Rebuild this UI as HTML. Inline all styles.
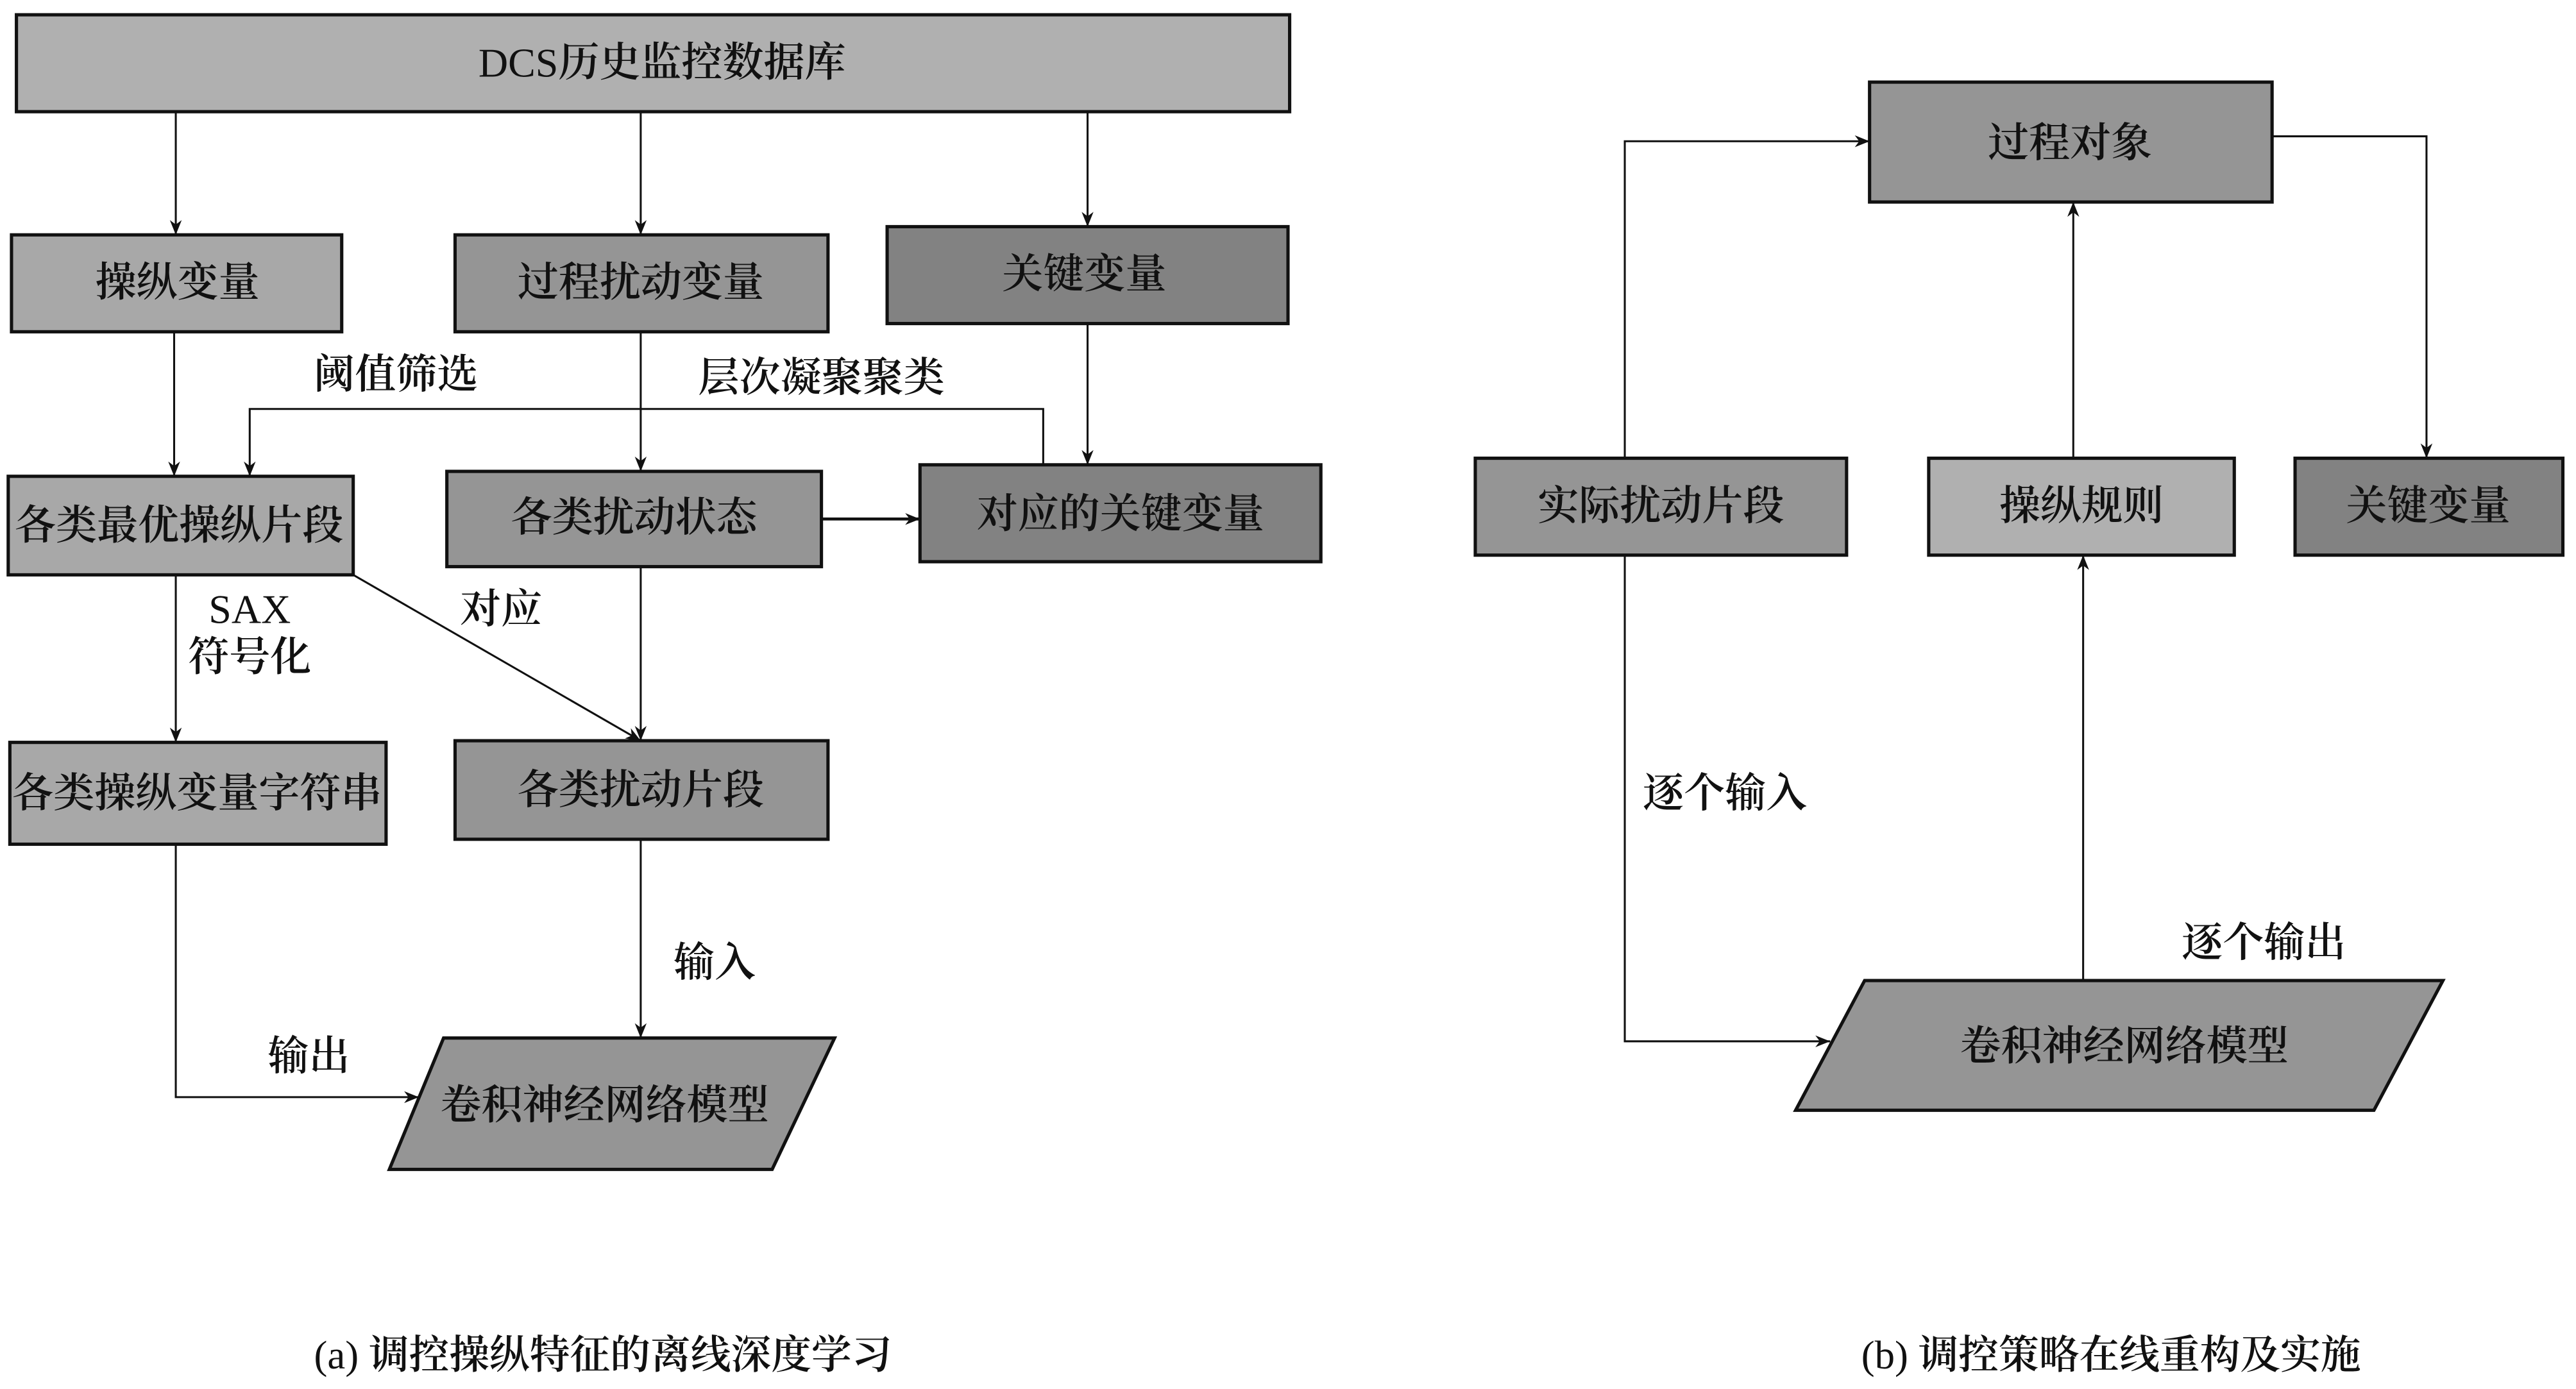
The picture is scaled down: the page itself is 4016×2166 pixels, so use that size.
<!DOCTYPE html>
<html><head><meta charset="utf-8"><style>
html,body{margin:0;padding:0;background:#fff;}
svg{display:block;}
text{font-family:"Liberation Serif","Noto Serif CJK SC","Noto Sans CJK SC",serif;fill:#111;text-anchor:middle;dominant-baseline:central;font-weight:600;}
.n{font-weight:normal;}
</style></head><body>
<svg width="4016" height="2166" viewBox="0 0 1568 845.7" preserveAspectRatio="none" xmlns="http://www.w3.org/2000/svg">
<defs>
<marker id="a" viewBox="0 0 10 10" refX="10" refY="5" markerWidth="9" markerHeight="9" markerUnits="userSpaceOnUse" orient="auto">
<path d="M0,1 L10,5 L0,9 L3,5 z" fill="#111"/></marker>
</defs>
<g stroke="#111" stroke-width="2">
<rect x="10" y="9" width="775" height="59" fill="#b0b0b0"/>
<rect x="7" y="143" width="201" height="59" fill="#a8a8a8"/>
<rect x="277" y="143" width="227" height="59" fill="#959595"/>
<rect x="540" y="138" width="244" height="59" fill="#828282"/>
<rect x="5" y="290" width="210" height="60" fill="#a8a8a8"/>
<rect x="272" y="287" width="228" height="58" fill="#959595"/>
<rect x="560" y="283" width="244" height="59" fill="#828282"/>
<rect x="6" y="452" width="229" height="62" fill="#a8a8a8"/>
<rect x="277" y="451" width="227" height="60" fill="#959595"/>
<polygon points="270,632 508,632 470,712 237,712" fill="#959595"/>
<rect x="1138" y="50" width="245" height="73" fill="#959595"/>
<rect x="898" y="279" width="226" height="59" fill="#959595"/>
<rect x="1174" y="279" width="186" height="59" fill="#b0b0b0"/>
<rect x="1397" y="279" width="163" height="59" fill="#828282"/>
<polygon points="1135,597 1487,597 1445,676 1093,676" fill="#959595"/>
</g>
<g stroke="#111" stroke-width="1.2" fill="none" marker-end="url(#a)">
<line x1="107" y1="68" x2="107" y2="143"/>
<line x1="390" y1="68" x2="390" y2="143"/>
<line x1="662" y1="68" x2="662" y2="138"/>
<line x1="106" y1="202" x2="106" y2="290"/>
<line x1="390" y1="202" x2="390" y2="287"/>
<line x1="662" y1="197" x2="662" y2="283"/>
<polyline points="635,283 635,249 152,249 152,290"/>
<line x1="500" y1="316" x2="560" y2="316" stroke-width="1.8"/>
<line x1="107" y1="350" x2="107" y2="452"/>
<line x1="215" y1="350" x2="390" y2="451"/>
<line x1="390" y1="345" x2="390" y2="451"/>
<line x1="390" y1="511" x2="390" y2="632"/>
<polyline points="107,514 107,668 255,668"/>
<polyline points="989,279 989,86 1138,86"/>
<line x1="1262" y1="279" x2="1262" y2="123"/>
<polyline points="1383,83 1477,83 1477,279"/>
<polyline points="989,338 989,634 1114,634"/>
<line x1="1268" y1="597" x2="1268" y2="338"/>
</g>
<g font-size="25">
<text x="403" y="38"><tspan class="n">DCS</tspan>历史监控数据库</text>
<text x="108" y="172">操纵变量</text>
<text x="390" y="172">过程扰动变量</text>
<text x="660" y="167">关键变量</text>
<text x="109" y="320">各类最优操纵片段</text>
<text x="386" y="315">各类扰动状态</text>
<text x="682" y="313">对应的关键变量</text>
<text x="120" y="483">各类操纵变量字符串</text>
<text x="390" y="481">各类扰动片段</text>
<text x="368" y="673">卷积神经网络模型</text>
<text x="1260" y="87">过程对象</text>
<text x="1011" y="308">实际扰动片段</text>
<text x="1267" y="308">操纵规则</text>
<text x="1478" y="308">关键变量</text>
<text x="1293" y="637">卷积神经网络模型</text>
<text x="241" y="228">阈值筛选</text>
<text x="500" y="230">层次凝聚聚类</text>
<text x="152" y="371" class="n">SAX</text>
<text x="152" y="400">符号化</text>
<text x="305" y="371">对应</text>
<text x="435" y="586">输入</text>
<text x="188" y="643">输出</text>
<text x="1050" y="483">逐个输入</text>
<text x="1378" y="574">逐个输出</text>
</g>
<g font-size="24.5">
<text x="367" y="825"><tspan class="n">(a)</tspan> 调控操纵特征的离线深度学习</text>
<text x="1285" y="825"><tspan class="n">(b)</tspan> 调控策略在线重构及实施</text>
</g>
</svg>
</body></html>
